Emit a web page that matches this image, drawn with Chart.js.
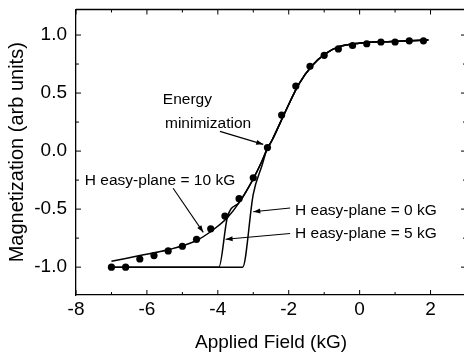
<!DOCTYPE html>
<html><head><meta charset="utf-8">
<script src="https://cdn.jsdelivr.net/npm/chart.js@4.4.1/dist/chart.umd.min.js"></script>
<style>html,body{margin:0;padding:0;overflow:hidden;background:#fff}#wrap{width:470px;height:358px}</style>
</head><body><div id="wrap"><canvas id="c" width="470" height="358"></canvas></div>
<script>
// ---- data ----
const dotField = [-7.0,-6.6,-6.2,-5.8,-5.4,-5.0,-4.6,-4.2,-3.8,-3.4,-3.0,-2.6,-2.2,-1.8,-1.4,-1.0,-0.6,-0.2,0.2,0.6,1.0,1.4,1.8];
const dotMag   = [-1.0,-1.0,-0.93,-0.90,-0.86,-0.82,-0.76,-0.67,-0.56,-0.41,-0.23,0.03,0.31,0.56,0.73,0.825,0.88,0.91,0.925,0.94,0.94,0.95,0.95];

const upperField = [-2.46,-2.08,-1.71,-1.33,-0.96,-0.58,-0.02,0.91,1.94];
const upperMag   = [0.10,0.35,0.58,0.74,0.84,0.90,0.93,0.945,0.957];

const curve10Field = [-7.0,-6.2,-5.4,-4.6,-4.14,-3.72,-3.39,-3.02,-2.76,-2.62].concat(upperField);
const curve10Mag   = [-0.95,-0.90,-0.85,-0.77,-0.68,-0.57,-0.44,-0.25,-0.09,0.01].concat(upperMag);

const curve5Field = [-7.0,-3.97,-3.73,-3.39,-3.02,-2.76,-2.62].concat(upperField);
const curve5Mag   = [-1.0,-1.0,-0.57,-0.44,-0.25,-0.09,0.01].concat(upperMag);

const curve0Field = [-7.0,-3.30,-3.0,-2.75,-2.62].concat(upperField);
const curve0Mag   = [-1.0,-1.0,-0.37,-0.12,0.01].concat(upperMag);

const xTicks = [-8,-6,-4,-2,0,2];
const yTicks = [-1.0,-0.5,0.0,0.5,1.0];
const xMinor = [-7,-5,-3,-1,1];
const yMinor = [-0.75,-0.25,0.25,0.75];

const noteText = ["Energy","minimization","H easy-plane = 10 kG","H easy-plane = 0 kG","H easy-plane = 5 kG"];
const noteX = [-5.55,-5.49,-7.75,-1.82,-1.82];
const noteY = [0.44,0.24,-0.256,-0.51,-0.716];
const arrowFromX = [-3.94,-5.26,-1.96,-1.96];
const arrowFromY = [0.17,-0.32,-0.49,-0.71];
const arrowToX   = [-2.72,-4.41,-3.0,-3.78];
const arrowToY   = [0.058,-0.70,-0.523,-0.76];

const FONT = "'Liberation Sans', Arial, Helvetica, sans-serif";
const pts = (xs, ys) => xs.map((x, i) => ({x, y: ys[i]}));

const lineStyle = {showLine:true, pointRadius:0, borderColor:'#000', borderWidth:1.5, cubicInterpolationMode:'monotone', fill:false};

const decor = {
  id:'decor',
  afterDraw(chart){
    const {ctx, chartArea:a, scales:{x, y}} = chart;
    ctx.save();
    ctx.strokeStyle = '#000';
    ctx.lineWidth = 1.3;
    ctx.beginPath();
    ctx.moveTo(a.left, a.top); ctx.lineTo(a.right, a.top); ctx.lineTo(a.right, a.bottom);
    ctx.stroke();
    ctx.lineWidth = 1;
    ctx.beginPath();
    xTicks.forEach(v => { const p = x.getPixelForValue(v); ctx.moveTo(p, a.bottom); ctx.lineTo(p, a.bottom-5); ctx.moveTo(p, a.top); ctx.lineTo(p, a.top+5); });
    xMinor.forEach(v => { const p = x.getPixelForValue(v); ctx.moveTo(p, a.bottom); ctx.lineTo(p, a.bottom-3); ctx.moveTo(p, a.top); ctx.lineTo(p, a.top+3); });
    yTicks.forEach(v => { const p = y.getPixelForValue(v); ctx.moveTo(a.left, p); ctx.lineTo(a.left+5, p); ctx.moveTo(a.right, p); ctx.lineTo(a.right-5, p); });
    yMinor.forEach(v => { const p = y.getPixelForValue(v); ctx.moveTo(a.left, p); ctx.lineTo(a.left+3, p); ctx.moveTo(a.right, p); ctx.lineTo(a.right-3, p); });
    ctx.stroke();
    // annotations
    ctx.fillStyle = '#000';
    ctx.font = '15.5px ' + FONT;
    ctx.textBaseline = 'middle';
    ctx.textAlign = 'left';
    noteText.forEach((t, i) => ctx.fillText(t, x.getPixelForValue(noteX[i]), y.getPixelForValue(noteY[i])));
    ctx.lineWidth = 1.1;
    arrowFromX.forEach((fx, i) => {
      const x0 = x.getPixelForValue(fx), y0 = y.getPixelForValue(arrowFromY[i]);
      const x1 = x.getPixelForValue(arrowToX[i]), y1 = y.getPixelForValue(arrowToY[i]);
      ctx.beginPath(); ctx.moveTo(x0, y0); ctx.lineTo(x1, y1); ctx.stroke();
      const ang = Math.atan2(y1-y0, x1-x0), L = 7, W = 2.5;
      ctx.beginPath();
      ctx.moveTo(x1, y1);
      ctx.lineTo(x1 - L*Math.cos(ang) + W*Math.sin(ang), y1 - L*Math.sin(ang) - W*Math.cos(ang));
      ctx.lineTo(x1 - L*Math.cos(ang) - W*Math.sin(ang), y1 - L*Math.sin(ang) + W*Math.cos(ang));
      ctx.closePath(); ctx.fill();
    });
    ctx.restore();
  }
};

new Chart(document.getElementById('c'), {
  type:'scatter',
  data:{datasets:[
    Object.assign({data:pts(curve0Field, curve0Mag)}, lineStyle),
    Object.assign({data:pts(curve5Field, curve5Mag)}, lineStyle),
    Object.assign({data:pts(curve10Field, curve10Mag)}, lineStyle),
    {data:pts(dotField, dotMag), showLine:false, pointRadius:3.6, pointBackgroundColor:'#000', pointBorderColor:'#000', pointBorderWidth:0}
  ]},
  options:{
    responsive:false, animation:false, devicePixelRatio:1,
    layout:{padding:{left:0, top:9.5, right:4, bottom:0}},
    plugins:{legend:{display:false}, tooltip:{enabled:false}},
    scales:{
      x:{type:'linear', min:-8, max:3,
        afterBuildTicks:s => { s.ticks = xTicks.map(v => ({value:v})); },
        afterFit:s => { s.height = 63; s.paddingLeft = 0; s.paddingRight = 0; },
        grid:{display:false, drawTicks:false},
        border:{display:true, color:'#000', width:1.3},
        ticks:{color:'#000', padding:3, maxRotation:0, font:{size:19, family:FONT}, callback:v => String(v)},
        title:{display:true, text:'Applied Field (kG)', color:'#000', font:{size:19, family:FONT}, padding:{top:0, bottom:4}}
      },
      y:{type:'linear', min:-1.24, max:1.22,
        afterBuildTicks:s => { s.ticks = yTicks.map(v => ({value:v})); },
        afterFit:s => { s.width = 76; s.paddingTop = 0; s.paddingBottom = 0; },
        grid:{display:false, drawTicks:false},
        border:{display:true, color:'#000', width:1.3},
        ticks:{color:'#000', padding:9, font:{size:19, family:FONT}, callback:v => Number(v).toFixed(1)},
        title:{display:true, text:'Magnetization (arb units)', color:'#000', font:{size:20, family:FONT}, padding:{top:5, bottom:0}}
      }
    }
  },
  plugins:[decor]
});
</script></body></html>
